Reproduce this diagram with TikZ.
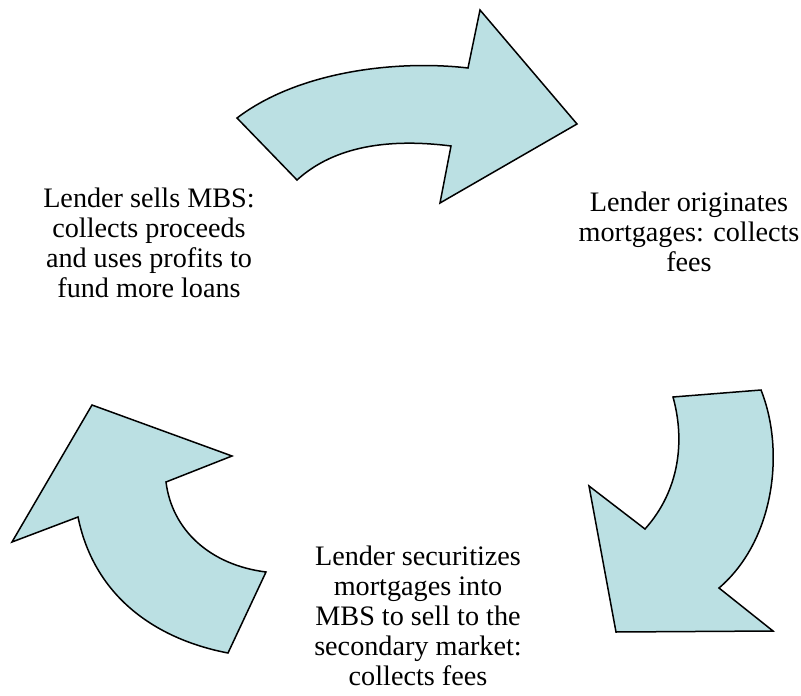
\documentclass[tikz,border=0pt]{standalone}
\usepackage{fontspec}
\setmainfont{Liberation Serif}
\definecolor{arrowfill}{RGB}{187,224,227}
\tikzstyle{bigarrow} = [draw=black, fill=arrowfill, line width=1.5pt, line join=miter]
\tikzstyle{cycletext} = [align=center, inner sep=0pt, font=\fontsize{28.2}{30}\selectfont]
\begin{document}
\begin{tikzpicture}[x=1pt, y=-1pt]
        \useasboundingbox (0,0) rectangle (801,696);

        \draw [bigarrow] (237,118) .. controls (300,70) and (400,60) .. (468,68)
            -- (480,10) -- (577,124) -- (440,203) -- (451,146)
            .. controls (380,137) and (330,150) .. (297,180) -- cycle;
        \draw [bigarrow] (761,390) .. controls (785,450) and (775,540) .. (719,588)
            -- (773,631) -- (616,632) -- (589,486) -- (645,529)
            .. controls (680,490) and (685,440) .. (673,397) -- cycle;
        \draw [bigarrow] (228,653) -- (266,572)
            .. controls (210,565) and (172,530) .. (166,482)
            -- (232,456) -- (92,405) -- (12,542) -- (78,517)
            .. controls (95,600) and (160,640) .. cycle;

        \node [cycletext] (originate) at (689,231.5) {Lender originates\\mortgages: collects\\fees};
        \node [cycletext] (securitize) at (418,615.5) {Lender securitizes\\mortgages into\\MBS to sell to the\\secondary market:\\collects fees};
        \node [cycletext] (sell) at (149,243) {Lender sells MBS:\\collects proceeds\\and uses profits to\\fund more loans};
    \end{tikzpicture}
\end{document}
